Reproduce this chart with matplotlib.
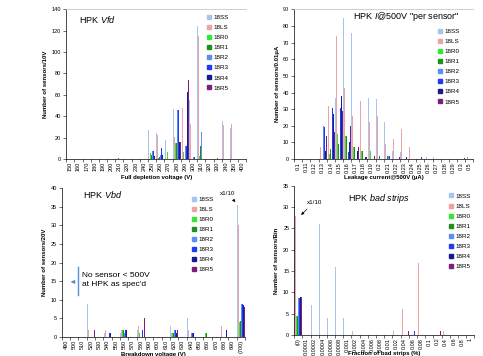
import numpy as np
import matplotlib
matplotlib.use("Agg")
import matplotlib.pyplot as plt
from matplotlib.lines import Line2D

plt.rcParams['font.family'] = ['Liberation Sans', 'DejaVu Sans']
plt.rcParams['mathtext.fontset'] = 'custom'
plt.rcParams['mathtext.rm'] = 'Liberation Sans'
plt.rcParams['mathtext.it'] = 'Liberation Sans:italic'

series = ['18SS', '18LS', '18R0', '18R1', '18R2', '18R3', '18R4', '18R5']
colors = ['#a9c3ec', '#eda3a3', '#33e833', '#1c921c', '#5a8ef0', '#1f3cf5', '#1a1a8e', '#7d1f7d']

# full depletion voltage
vfd_labels = ['150', '160', '170', '180', '190', '200', '210', '220', '230', '240', '250',
              '260', '270', '280', '290', '300', '310', '320', '330', '340', '350', '400']
vfd_ss = [0, 0, 0, 0, 0, 0, 0, 0, 0, 0, 27, 24, 18, 47, 0, 55, 124, 0, 0, 36, 29, 0]
vfd_ls = [0, 0, 0, 0, 0, 0, 0, 0, 0, 0, 0, 23, 0, 21, 48, 33, 115, 0, 0, 32, 33, 0]
vfd_r0 = [0, 0, 0, 0, 0, 0, 0, 0, 0, 0, 6, 1, 7, 15, 7, 0, 3, 9, 0, 0, 0, 0]
vfd_r1 = [0, 0, 0, 0, 0, 0, 1, 0, 0, 0, 4, 2, 12, 15, 0, 0, 12, 8, 1, 0, 0, 0]
vfd_r2 = [0, 0, 0, 0, 0, 0, 0, 0, 0, 0, 8, 4, 13, 46, 12, 2, 25, 7, 0, 0, 0, 0]
vfd_r3 = [0, 0, 0, 0, 0, 0, 0, 0, 0, 0, 8, 10, 13, 46, 12, 2, 0, 0, 0, 0, 0, 0]
vfd_r4 = [0, 0, 0, 0, 0, 0, 0, 0, 0, 0, 3, 4, 4, 16, 63, 0, 0, 0, 0, 0, 0, 0]
vfd_r5 = [0, 0, 0, 0, 0, 0, 0, 0, 0, 0, 0, 0, 0, 16, 74, 0, 0, 0, 0, 0, 0, 0]

# leakage current @500V
leak_labels = ['0.1', '0.11', '0.12', '0.13', '0.14', '0.15', '0.16', '0.17', '0.18', '0.19', '0.2',
               '0.21', '0.22', '0.23', '0.24', '0.25', '0.26', '0.27', '0.28', '0.29', '0.3', '0.5']
leak_ss = [0, 0, 0, 0, 0, 37, 85, 76, 63, 37, 36, 22, 5, 4, 0, 2, 0, 1, 0, 0, 0, 0]
leak_ls = [0, 0, 0, 7, 32, 74, 43, 26, 35, 22, 26, 9, 12, 18, 7, 3, 1, 0, 0, 0, 0, 0]
leak_r0 = [0, 0, 0, 0, 3, 15, 14, 7, 5, 5, 0, 0, 0, 0, 0, 0, 0, 0, 0, 0, 0, 1]
leak_r1 = [0, 0, 0, 0, 6, 9, 14, 7, 5, 0, 2, 2, 0, 0, 0, 0, 0, 0, 0, 0, 0, 0]
leak_r2 = [0, 0, 20, 20, 0, 0, 0, 0, 0, 0, 0, 2, 0, 0, 0, 0, 0, 0, 0, 0, 0, 0]
leak_r3 = [0, 0, 1, 19, 31, 31, 4, 0, 0, 0, 0, 2, 0, 0, 0, 1, 0, 0, 0, 0, 0, 0]
leak_r4 = [0, 0, 0, 5, 27, 38, 10, 5, 1, 0, 0, 0, 0, 1, 0, 0, 0, 0, 0, 0, 0, 0]
leak_r5 = [0, 0, 0, 14, 16, 29, 20, 7, 1, 2, 0, 0, 1, 0, 0, 0, 0, 0, 0, 0, 0.5, 0]

# breakdown voltage
vbd_labels = ['490', '500', '510', '520', '530', '540', '550', '560', '570', '580', '590',
              '600', '610', '620', '630', '640', '650', '660', '670', '680', '690', '(700)']
vbd_ss = [0, 0, 0, 9, 0, 1, 0, 1, 0, 2, 0, 2, 0, 3, 0, 5, 0, 0, 0, 0, 0, 35.5]
vbd_ls = [0, 0, 0, 2, 0, 2, 0, 2, 0, 3, 0, 1, 0, 1, 0, 2, 0, 0, 0, 3, 0, 30]
vbd_r0 = [0, 0, 0, 0, 0, 0, 0, 2, 0, 1, 0, 1, 0, 1, 0, 0, 0, 1, 0, 0, 0, 4]
vbd_r1 = [0, 0, 0, 0, 0, 0, 0, 2, 0, 0, 0, 1, 0, 1, 0, 0, 0, 1, 0, 0, 0, 4.3]
vbd_r2 = [0, 0, 0, 0, 0, 0, 0, 1, 0, 0, 0, 1, 0, 2, 0, 1, 0, 0, 0, 0, 0, 9]
vbd_r3 = [0, 0, 0, 0, 0, 1, 0, 2, 0, 2, 0, 1, 0, 2, 0, 1, 0, 0, 0, 0, 0, 9]
vbd_r4 = [0, 0, 0, 0, 0, 1, 0, 2, 0, 0, 0, 1, 0, 1, 0, 1, 0, 0, 0, 2, 0, 8.5]
vbd_r5 = [0, 0, 0, 2, 0, 0, 0, 0, 0, 5, 0, 1, 0, 2, 0, 0, 0, 0, 0, 0, 0, 8]

# fraction of bad strips
bad_labels = ['(0)', '0.0001', '0.0002', '0.0004', '0.0006', '0.0008', '0.001', '0.002', '0.004',
              '0.006', '0.008', '0.01', '0.02', '0.04', '0.06', '0.08', '0.1', '0.2', '0.4', '0.6',
              '0.8', '1']
bad_ss = [32, 0, 7, 26, 4, 16, 4, 1, 0, 0, 0, 0, 1, 0, 0, 0, 0, 0, 0, 0, 0, 0]
bad_ls = [28, 0, 0, 0, 0, 0, 0, 0, 0, 0, 0, 0, 0, 6, 0, 17, 0, 13, 1, 0, 0, 0]
bad_r0 = [4.5, 0, 0, 0, 0, 0, 0, 0, 0, 0, 0, 0, 0, 0, 0, 0, 0, 1, 0, 0, 0, 0]
bad_r1 = [4.5, 0, 0, 0, 0, 0, 0, 0, 0, 0, 0, 0, 0, 0, 0, 0, 0, 0, 0, 0, 0, 0]
bad_r2 = [8.7, 0, 0, 0, 0, 0, 0, 0, 0, 0, 0, 0, 0, 0, 0, 0, 0, 0, 0, 0, 0, 0]
bad_r3 = [8.7, 0, 0, 0, 0, 0, 0, 0, 0, 0, 0, 0, 3, 0, 1, 0, 0, 0, 0, 0, 0, 0]
bad_r4 = [8.8, 0, 0, 0, 0, 0, 0, 0, 0, 0, 0, 0, 0, 0, 0, 0, 0, 0, 0, 0, 0, 0]
bad_r5 = [8.8, 0, 0, 0, 0, 0, 0, 0, 0, 0, 0, 0, 0, 1, 0, 0, 0, 1, 0, 0, 0, 0]


def draw_panel(ax, labels, values, ymax, ystep, ylabel, xlabel, legend_xy):
    x = np.arange(len(labels))
    for i, vals in enumerate(values):
        ax.bar(x + (i - 3.5) * 0.12, vals, width=0.11, color=colors[i], linewidth=0)
    ax.set_xlim(-0.5, len(labels) - 0.5)
    ax.set_ylim(0, ymax)
    ax.set_yticks(np.arange(0, ymax + 1, ystep))
    ax.set_xticks(x)
    ax.set_xticklabels(labels, rotation=90, fontsize=4)
    ax.set_xticks(np.arange(len(labels) + 1) - 0.5, minor=True)
    ax.tick_params(axis='x', which='major', length=0, pad=2)
    ax.tick_params(axis='x', which='minor', length=2, width=0.4)
    ax.tick_params(axis='y', length=2, width=0.4, labelsize=4, pad=1.5)
    for s in ['top', 'right']:
        ax.spines[s].set_visible(False)
    for s in ['left', 'bottom']:
        ax.spines[s].set_linewidth(0.5)
    ax.set_ylabel(ylabel, fontsize=4.3, fontweight='bold')
    ax.set_xlabel(xlabel, fontsize=4.3, fontweight='bold')
    handles = [Line2D([], [], marker='s', linestyle='none', markersize=2.6, color=c) for c in colors]
    ax.legend(handles, series, loc='upper left', bbox_to_anchor=legend_xy, frameon=False,
              fontsize=4.5, handlelength=0.8, handletextpad=0.3, labelspacing=0.75,
              borderpad=0, borderaxespad=0)


fig = plt.figure(figsize=(4.83, 3.56), dpi=100)
ax1 = fig.add_axes([0.137, 0.553, 0.373, 0.421])
ax2 = fig.add_axes([0.609, 0.553, 0.371, 0.421])
ax3 = fig.add_axes([0.128, 0.053, 0.379, 0.419])
ax4 = fig.add_axes([0.609, 0.059, 0.373, 0.419])

draw_panel(ax1, vfd_labels, [vfd_ss, vfd_ls, vfd_r0, vfd_r1, vfd_r2, vfd_r3, vfd_r4, vfd_r5],
           140, 20, 'Number of sensors/10V', 'Full depletion voltage (V)', (0.78, 0.963))
draw_panel(ax2, leak_labels, [leak_ss, leak_ls, leak_r0, leak_r1, leak_r2, leak_r3, leak_r4, leak_r5],
           90, 10, 'Number of sensors/0.01µA', 'Leakage current@500V (µA)', (0.80, 0.87))
draw_panel(ax3, vbd_labels, [vbd_ss, vbd_ls, vbd_r0, vbd_r1, vbd_r2, vbd_r3, vbd_r4, vbd_r5],
           40, 5, 'Number of sensors/20V', 'Breakdown voltage (V)', (0.71, 0.943))
draw_panel(ax4, bad_labels, [bad_ss, bad_ls, bad_r0, bad_r1, bad_r2, bad_r3, bad_r4, bad_r5],
           35, 5, 'Number of sensors/Bin', 'Fraction of bad strips (%)', (0.855, 0.95))

for ax in [ax1, ax2]:
    ax.spines['top'].set_visible(True)
    ax.spines['top'].set_color('#c8c8c8')
    ax.spines['top'].set_linewidth(0.6)

ax1.yaxis.set_label_coords(-0.1, 0.5)
ax2.yaxis.set_label_coords(-0.08, 0.5)
ax3.yaxis.set_label_coords(-0.08, 0.5)
ax4.yaxis.set_label_coords(-0.085, 0.5)
ax1.xaxis.set_label_coords(0.5, -0.107)
ax2.xaxis.set_label_coords(0.5, -0.107)
ax3.xaxis.set_label_coords(0.5, -0.10)
ax4.xaxis.set_label_coords(0.5, -0.104)

ax1.text(0.072, 0.933, 'HPK $\\it{Vfd}$', transform=ax1.transAxes, fontsize=6.5, va='center')
ax2.text(0.33, 0.953, 'HPK $\\it{I}$@500V "per sensor"', transform=ax2.transAxes, fontsize=6.5, va='center')
ax3.text(0.115, 0.953, 'HPK $\\it{Vbd}$', transform=ax3.transAxes, fontsize=6.5, va='center')
ax4.text(0.30, 0.913, 'HPK $\\it{bad\\ strips}$', transform=ax4.transAxes, fontsize=6.5, va='center')

# note about the 500V spec
ax3.plot([1.42, 1.42], [11.3, 18.8], color='#5b8fd0', lw=1)
ax3.annotate('', xy=(0.22, 14.8), xytext=(1.42, 14.8),
             arrowprops=dict(arrowstyle='-|>', color='#5b8fd0', lw=0.8, mutation_scale=5))
ax3.text(1.9, 15.3, "No sensor < 500V\nat HPK as spec'd", fontsize=6, va='center', ha='left',
         linespacing=1.3)

ax3.annotate('x1/10', xy=(20.6, 35.7), xytext=(19.4, 38.4), fontsize=4.5, ha='center', va='center',
             arrowprops=dict(arrowstyle='-|>', color='black', lw=0.5, mutation_scale=4))
ax4.annotate('x1/10', xy=(0.11, 27.7), xytext=(1.94, 31.2), fontsize=4.5, ha='center', va='center',
             arrowprops=dict(arrowstyle='-|>', color='black', lw=0.5, mutation_scale=4))

fig.savefig('out.png', dpi=100)
